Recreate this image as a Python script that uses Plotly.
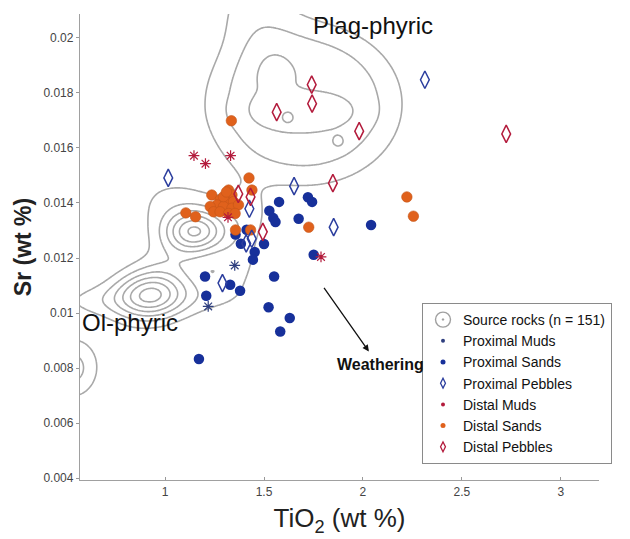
import numpy as np
import plotly.graph_objects as go

# ---------------- data (TiO2 wt %, Sr wt %) ----------------
prox_muds_ti = [1.352, 1.218]
prox_muds_sr = [0.01173, 0.01024]

prox_sands_ti = [1.576, 1.722, 1.743, 1.527, 1.547, 1.558, 1.675, 2.041, 1.751, 1.356,
                 1.383, 1.412, 1.453, 1.500, 1.444, 1.202, 1.208, 1.329, 1.379, 1.551,
                 1.523, 1.630, 1.582, 1.171]
prox_sands_sr = [0.01404, 0.01421, 0.01404, 0.01372, 0.01345, 0.01331, 0.01343, 0.01320, 0.01212, 0.01285,
                 0.01252, 0.01303, 0.01222, 0.01251, 0.01194, 0.01133, 0.01063, 0.01103, 0.01081, 0.01133,
                 0.01021, 0.00982, 0.00933, 0.00833]

prox_peb_ti = [2.313, 1.016, 1.652, 1.426, 1.852, 1.438, 1.410, 1.290]
prox_peb_sr = [0.01848, 0.01491, 0.01461, 0.01379, 0.01312, 0.01270, 0.01253, 0.01109]

dist_muds_ti = [1.146, 1.204, 1.331, 1.788, 1.318]
dist_muds_sr = [0.01572, 0.01543, 0.01572, 0.01204, 0.01348]

dist_sands_ti = [1.335, 1.424, 2.222, 2.255, 1.726, 1.105, 1.154, 1.356, 1.432, 1.439,
                 1.321, 1.338, 1.236, 1.278, 1.312, 1.346, 1.262, 1.228, 1.295, 1.338,
                 1.371, 1.245, 1.278, 1.321, 1.354, 1.295, 1.310]
dist_sands_sr = [0.01699, 0.01491, 0.01422, 0.01352, 0.01312, 0.01364, 0.01350, 0.01302, 0.01302, 0.01447,
                 0.01447, 0.01429, 0.01429, 0.01411, 0.01405, 0.01405, 0.01393, 0.01387, 0.01387, 0.01381,
                 0.01393, 0.01368, 0.01368, 0.01362, 0.01362, 0.01423, 0.01440]

dist_peb_ti = [1.741, 1.743, 1.564, 1.981, 2.724, 1.848, 1.370, 1.432, 1.494]
dist_peb_sr = [0.01830, 0.01761, 0.01730, 0.01661, 0.01651, 0.01472, 0.01433, 0.01422, 0.01295]

# source-rock density, approximated by components
#            Ol     Mid    edge   brdg   diag   UL     lowR   low    join   PlagB  PlagC  PlagUL PlagTop s1     s2
src_ti  = [0.926, 1.153, 0.531, 0.680, 1.040, 1.020, 1.370, 1.200, 1.420, 1.700, 1.680, 1.540, 1.450,  1.620, 1.877]
src_sr  = [10.65, 12.96, 8.00,  10.45, 11.90, 14.00, 12.00, 10.60, 13.70, 17.60, 17.30, 18.70, 21.00,  17.10, 16.22]  # x1e-3
src_sx  = [24,    20,    18,    35,    50,    28,    18,    25,    18,    82,    55,    16,    30,     5,     5]      # px
src_sy  = [16,    14,    21,    12,    22,    22,    30,    14,    20,    68,    18,    20,    30,     5,     5]      # px
src_ang = [0,     0,     0,     0,     55,    0,     0,     0,     0,     0,     0,     0,     0,      0,     0]      # deg
src_pow = [2,     2,     2,     2,     2,     2,     2,     2,     2,     4,     4,     2,     2,      2,     2]      # profile
src_w   = [5.0,   4.8,   2.4,   1.2,   1.4,   1.1,   1.2,   1.0,   1.0,   2.8,   0.6,   0.6,   1.3,    1.0,   0.85]

x_ticks = [1, 1.5, 2, 2.5, 3]
y_ticks = [0.004, 0.006, 0.008, 0.01, 0.012, 0.014, 0.016, 0.018, 0.02]
y_ticktext = ["0.004", "0.006", "0.008", "0.01", "0.012", "0.014", "0.016", "0.018", "0.02"]

# ---------------- density grid ----------------
PX_X = 197.5   # px per unit TiO2
PX_Y = 27.5    # px per 0.001 Sr
xg = np.arange(0.40, 3.30, 0.007)
yg = np.arange(3.6, 21.8, 0.045)
X, Y = np.meshgrid(xg, yg)
Z = np.zeros_like(X)
for cx, cy, sx, sy, a, p, w in zip(src_ti, src_sr, src_sx, src_sy, src_ang, src_pow, src_w):
    dx = (X - cx) * PX_X
    dy = (Y - cy) * PX_Y
    t = np.deg2rad(a)
    u = dx * np.cos(t) + dy * np.sin(t)
    v = -dx * np.sin(t) + dy * np.cos(t)
    q = (u / sx) ** 2 + (v / sy) ** 2
    Z += w * np.exp(-0.5 * q ** (p / 2))
Z = np.round(Z, 3)

fig = go.Figure()
fig.add_trace(go.Contour(
    x=xg, y=yg / 1000, z=Z,
    contours=dict(start=1, end=7, size=1, coloring="lines"),
    colorscale=[[0, "#a9a9a9"], [1, "#a9a9a9"]],
    line=dict(width=1.6), showscale=False, hoverinfo="skip", showlegend=False,
))

BLUE = "#17309a"
BLUE_L = "#2c3e9e"
BLUE_M = "#2f3f7f"
RED = "#b31b3c"
ORANGE = "#e0611c"

fig.add_trace(go.Scatter(x=prox_sands_ti, y=prox_sands_sr, mode="markers", showlegend=False,
                         marker=dict(symbol="circle", size=10.5, color=BLUE, line=dict(width=0))))
fig.add_trace(go.Scatter(x=dist_sands_ti, y=dist_sands_sr, mode="markers", showlegend=False,
                         marker=dict(symbol="circle", size=10.5, color=ORANGE, line=dict(width=0.6, color="#c4551a"))))
fig.add_trace(go.Scatter(x=prox_muds_ti, y=prox_muds_sr, mode="markers", showlegend=False,
                         marker=dict(symbol="asterisk-open", size=9, color=BLUE_M, line=dict(width=1.2, color=BLUE_M))))
fig.add_trace(go.Scatter(x=dist_muds_ti, y=dist_muds_sr, mode="markers", showlegend=False,
                         marker=dict(symbol="asterisk-open", size=9, color=RED, line=dict(width=1.2, color=RED))))
fig.add_trace(go.Scatter(x=prox_peb_ti, y=prox_peb_sr, mode="markers", showlegend=False,
                         marker=dict(symbol="diamond-tall-open", size=12.5, color=BLUE_L, line=dict(width=1.5, color=BLUE_L))))
fig.add_trace(go.Scatter(x=dist_peb_ti, y=dist_peb_sr, mode="markers", showlegend=False,
                         marker=dict(symbol="diamond-tall-open", size=12.5, color=RED, line=dict(width=1.5, color=RED))))

# legend-only entries
GRAY = "#a0a0a0"
leg = [
    ("Source rocks (n = 151)", dict(symbol="circle-open-dot", size=15, color=GRAY, line=dict(width=1.4, color=GRAY))),
    ("Proximal Muds", dict(symbol="circle", size=4, color=BLUE_M)),
    ("Proximal Sands", dict(symbol="circle", size=5, color=BLUE)),
    ("Proximal Pebbles", dict(symbol="diamond-tall-open", size=7, color=BLUE_L, line=dict(width=1.3, color=BLUE_L))),
    ("Distal Muds", dict(symbol="circle", size=4, color=RED)),
    ("Distal Sands", dict(symbol="circle", size=5, color=ORANGE)),
    ("Distal Pebbles", dict(symbol="diamond-tall-open", size=7, color=RED, line=dict(width=1.3, color=RED))),
]
for name, mk in leg:
    fig.add_trace(go.Scatter(x=[None], y=[None], mode="markers", name=name, marker=mk))

FONT = "Liberation Sans, Arial, sans-serif"
L, R, T, B = 80, 31, 14, 59
PW, PH = 630 - L - R, 539 - T - B
fig.update_layout(
    width=630, height=539,
    margin=dict(l=L, r=R, t=T, b=B),
    paper_bgcolor="white", plot_bgcolor="white",
    font=dict(family=FONT, color="#222"),
    showlegend=True,
    legend=dict(x=(422 - L) / PW, y=1 - (303 - T) / PH, xanchor="left", yanchor="top",
                bordercolor="#8a8a8a", borderwidth=1, bgcolor="white",
                font=dict(size=14, color="#111", family=FONT), itemwidth=30,
                tracegroupgap=0),
    xaxis=dict(range=[0.570, 3.193], tickvals=x_ticks, ticks="inside", ticklen=3,
               tickcolor="#999", showline=True, linecolor="#a0a0a0", linewidth=1.3,
               showgrid=False, zeroline=False, tickfont=dict(size=12, color="#444"),
               automargin=False,
               title=dict(text="TiO<sub>2</sub> (wt %)", font=dict(size=26, color="#222"), standoff=11)),
    yaxis=dict(range=[0.00393, 0.02087], tickvals=y_ticks, ticktext=y_ticktext, ticks="outside",
               ticklen=3, tickcolor="#999", showline=True, linecolor="#a0a0a0", linewidth=1.3,
               showgrid=False, zeroline=False, tickfont=dict(size=12, color="#444"),
               automargin=False,
               title=dict(text="<b>Sr (wt %)</b>", font=dict(size=23, color="#222"), standoff=5)),
)

fig.add_annotation(x=2.053, y=0.02047, text="Plag-phyric", showarrow=False,
                   font=dict(size=24, color="#111", family=FONT), xanchor="center", yanchor="middle")
fig.add_annotation(x=0.570, y=0.00964, text="Ol-phyric", showarrow=False,
                   font=dict(size=24, color="#111", family=FONT), xanchor="left", yanchor="middle")
fig.add_annotation(x=2.09, y=0.00812, text="<b>Weathering</b>", showarrow=False,
                   font=dict(size=16, color="#111", family=FONT), xanchor="center", yanchor="middle")
fig.add_annotation(x=2.03, y=0.0086, ax=1.798, ay=0.01097, axref="x", ayref="y",
                   xref="x", yref="y", text="", showarrow=True, arrowhead=2, arrowsize=1,
                   arrowwidth=1.3, arrowcolor="#111")

fig.write_html("out.html", config={"displayModeBar": False},
               post_script="document.body.style.margin='0px';")
